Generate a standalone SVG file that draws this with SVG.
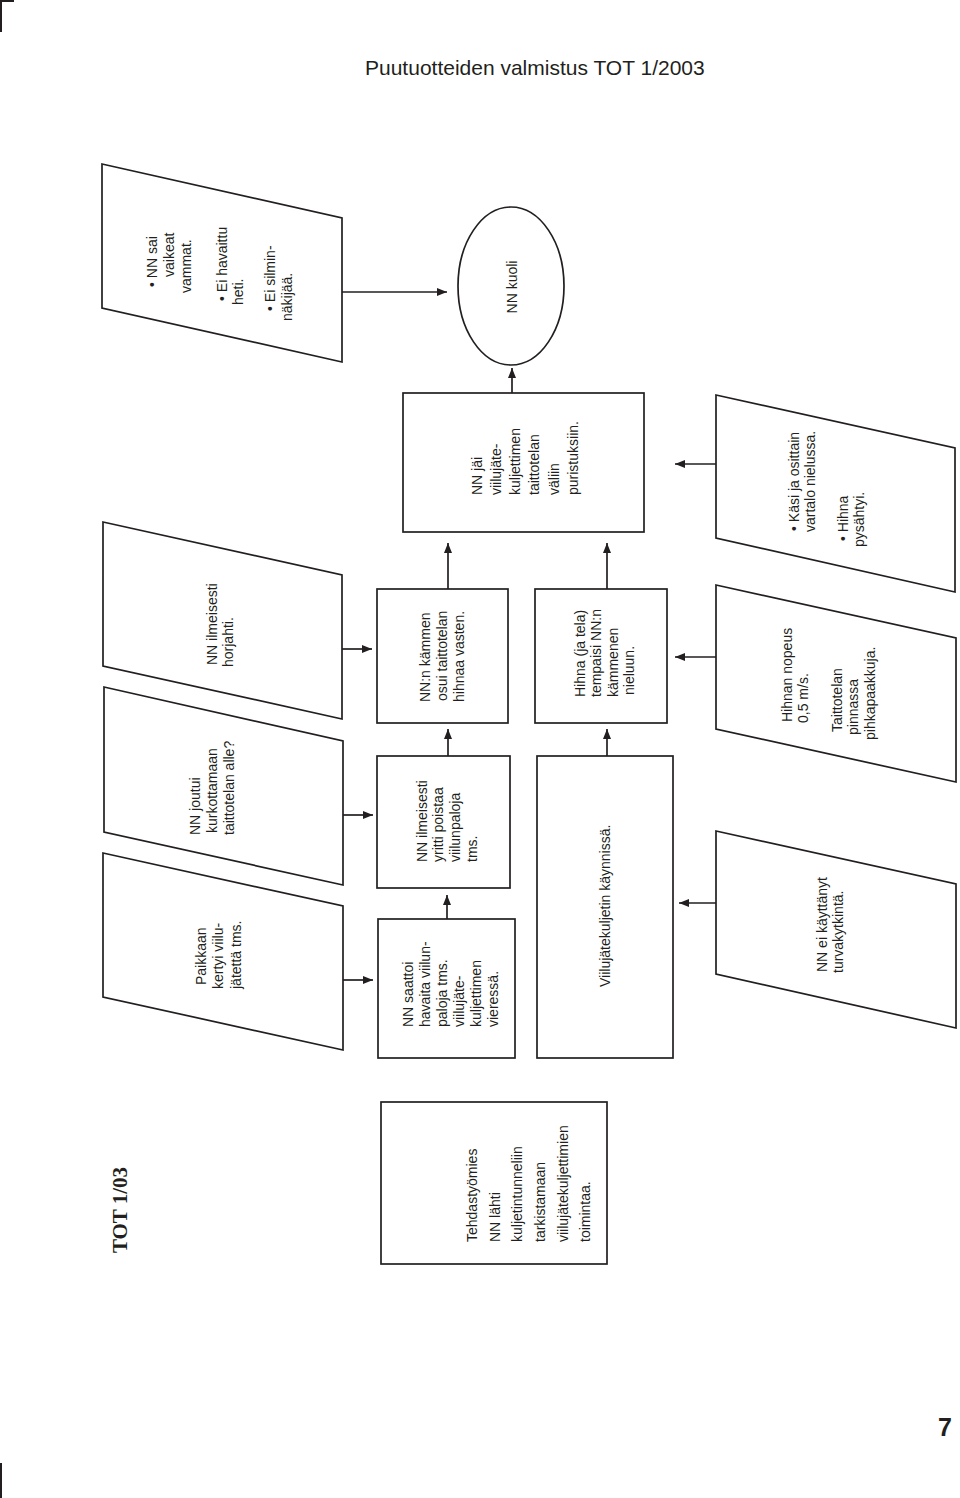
<svg xmlns="http://www.w3.org/2000/svg" width="960" height="1498" viewBox="0 0 960 1498">
<style>
.bg{fill:#ffffff}
.shape{fill:#ffffff;stroke:#231f20;stroke-width:1.7}
.conn{fill:none;stroke:#231f20;stroke-width:1.7}
.t{font-family:"Liberation Sans",Arial,sans-serif;font-size:14px;fill:#231f20}
.title{font-family:"Liberation Sans",Arial,sans-serif;font-size:21px;fill:#231f20}
.tot{font-family:"Liberation Serif","Times New Roman",serif;font-size:21px;font-weight:bold;fill:#231f20}
.pg{font-family:"Liberation Sans",Arial,sans-serif;font-size:25px;font-weight:bold;fill:#231f20}
.mark{fill:none;stroke:#231f20;stroke-width:2}
</style>
<defs>
<marker id="ah" markerUnits="userSpaceOnUse" markerWidth="12" markerHeight="10" refX="10" refY="4" orient="auto">
<path d="M0,0 L10,4 L0,8 Z" fill="#231f20"/>
</marker>
</defs>
<rect class="bg" x="0" y="0" width="960" height="1498"/>
<g id="cropmarks">
<path class="mark" d="M1,32 V1 H14"/>
<path class="mark" d="M1,1463 V1498"/>
</g>
<text class="title" x="365" y="75">Puutuotteiden valmistus TOT 1/2003</text>
<text class="tot" transform="rotate(-90)" x="-1210" y="127" text-anchor="middle">TOT 1/03</text>
<text class="pg" x="945" y="1436" text-anchor="middle">7</text>

<g id="connectors">
<line class="conn" x1="342" y1="292" x2="447" y2="292" marker-end="url(#ah)"/>
<line class="conn" x1="512" y1="393" x2="512" y2="368" marker-end="url(#ah)"/>
<line class="conn" x1="448" y1="589" x2="448" y2="543" marker-end="url(#ah)"/>
<line class="conn" x1="607" y1="589" x2="607" y2="543" marker-end="url(#ah)"/>
<line class="conn" x1="716" y1="464" x2="675" y2="464" marker-end="url(#ah)"/>
<line class="conn" x1="716" y1="657" x2="675" y2="657" marker-end="url(#ah)"/>
<line class="conn" x1="342" y1="649" x2="372" y2="649" marker-end="url(#ah)"/>
<line class="conn" x1="448" y1="756" x2="448" y2="729" marker-end="url(#ah)"/>
<line class="conn" x1="607" y1="756" x2="607" y2="729" marker-end="url(#ah)"/>
<line class="conn" x1="343" y1="815" x2="373" y2="815" marker-end="url(#ah)"/>
<line class="conn" x1="447" y1="919" x2="447" y2="895" marker-end="url(#ah)"/>
<line class="conn" x1="343" y1="980" x2="373" y2="980" marker-end="url(#ah)"/>
<line class="conn" x1="716" y1="903" x2="679" y2="903" marker-end="url(#ah)"/>
</g>

<g id="n-vammat">
<polygon class="shape" points="102,164 342,218 342,362 102,308"/>
<text class="t" transform="rotate(-90)">
<tspan x="-287" y="157">• NN sai</tspan>
<tspan x="-277" y="174">vaikeat</tspan>
<tspan x="-293" y="191">vammat.</tspan>
<tspan x="-301" y="227">• Ei havaittu</tspan>
<tspan x="-305" y="243">heti.</tspan>
<tspan x="-311" y="275">• Ei silmin-</tspan>
<tspan x="-321" y="292">näkijää.</tspan>
</text>
</g>

<g id="n-kuoli">
<ellipse class="shape" cx="511" cy="286" rx="53" ry="79"/>
<text class="t" transform="rotate(-90)" x="-287" y="517" text-anchor="middle">NN kuoli</text>
</g>

<g id="n-jai">
<rect class="shape" x="403" y="393" width="241" height="139"/>
<text class="t" transform="rotate(-90)">
<tspan x="-495" y="482">NN jäi</tspan>
<tspan x="-495" y="501">viilujäte-</tspan>
<tspan x="-495" y="520">kuljettimen</tspan>
<tspan x="-495" y="539">taittotelan</tspan>
<tspan x="-495" y="559">väliin</tspan>
<tspan x="-495" y="578">puristuksiin.</tspan>
</text>
</g>

<g id="n-kasi">
<polygon class="shape" points="716,395 955,448 955,592 716,538"/>
<text class="t" transform="rotate(-90)">
<tspan x="-531" y="799">• Käsi ja osittain</tspan>
<tspan x="-532" y="815">vartalo nielussa.</tspan>
<tspan x="-541" y="848">• Hihna</tspan>
<tspan x="-547" y="864">pysähtyi.</tspan>
</text>
</g>

<g id="n-kammen">
<rect class="shape" x="377" y="589" width="131" height="134"/>
<text class="t" transform="rotate(-90)">
<tspan x="-702" y="430">NN:n kämmen</tspan>
<tspan x="-701" y="447">osui taittotelan</tspan>
<tspan x="-702" y="464">hihnaa vasten.</tspan>
</text>
</g>

<g id="n-hihna">
<rect class="shape" x="535" y="589" width="132" height="134"/>
<text class="t" transform="rotate(-90)">
<tspan x="-697" y="585">Hihna (ja tela)</tspan>
<tspan x="-697" y="601">tempaisi NN:n</tspan>
<tspan x="-697" y="618">kämmenen</tspan>
<tspan x="-695" y="634">nieluun.</tspan>
</text>
</g>

<g id="n-nopeus">
<polygon class="shape" points="716,585 956,638 956,782 716,729"/>
<text class="t" transform="rotate(-90)">
<tspan x="-722" y="792">Hihnan nopeus</tspan>
<tspan x="-723" y="808">0,5 m/s.</tspan>
<tspan x="-732" y="842">Taittotelan</tspan>
<tspan x="-735" y="858">pinnassa</tspan>
<tspan x="-740" y="875">pihkapaakkuja.</tspan>
</text>
</g>

<g id="n-horjahti">
<polygon class="shape" points="103,522 342,575 342,719 103,666"/>
<text class="t" transform="rotate(-90)">
<tspan x="-665" y="217">NN ilmeisesti</tspan>
<tspan x="-667" y="233">horjahti.</tspan>
</text>
</g>

<g id="n-yritti">
<rect class="shape" x="377" y="756" width="133" height="132"/>
<text class="t" transform="rotate(-90)">
<tspan x="-862" y="427">NN ilmeisesti</tspan>
<tspan x="-862" y="443">yritti poistaa</tspan>
<tspan x="-862" y="460">viilunpaloja</tspan>
<tspan x="-862" y="477">tms.</tspan>
</text>
</g>

<g id="n-joutui">
<polygon class="shape" points="104,687 343,741 343,885 104,832"/>
<text class="t" transform="rotate(-90)">
<tspan x="-835" y="200">NN joutui</tspan>
<tspan x="-833" y="217">kurkottamaan</tspan>
<tspan x="-835" y="234">taittotelan alle?</tspan>
</text>
</g>

<g id="n-kaynnissa">
<rect class="shape" x="537" y="756" width="136" height="302"/>
<text class="t" transform="rotate(-90)" x="-987" y="610">Viilujätekuljetin käynnissä.</text>
</g>

<g id="n-paikkaan">
<polygon class="shape" points="103,853 343,906 343,1050 103,997"/>
<text class="t" transform="rotate(-90)">
<tspan x="-985" y="206">Paikkaan</tspan>
<tspan x="-989" y="223">kertyi viilu-</tspan>
<tspan x="-989" y="241">jätettä tms.</tspan>
</text>
</g>

<g id="n-saattoi">
<rect class="shape" x="378" y="919" width="137" height="139"/>
<text class="t" transform="rotate(-90)">
<tspan x="-1027" y="413">NN saattoi</tspan>
<tspan x="-1027" y="430">havaita viilun-</tspan>
<tspan x="-1027" y="447">paloja tms.</tspan>
<tspan x="-1027" y="464">viilujäte-</tspan>
<tspan x="-1027" y="481">kuljettimen</tspan>
<tspan x="-1027" y="498">vieressä.</tspan>
</text>
</g>

<g id="n-turvakytkin">
<polygon class="shape" points="716,831 956,884 956,1028 716,974"/>
<text class="t" transform="rotate(-90)">
<tspan x="-972" y="827">NN ei käyttänyt</tspan>
<tspan x="-973" y="843">turvakytkintä.</tspan>
</text>
</g>

<g id="n-tehdastyomies">
<rect class="shape" x="381" y="1102" width="226" height="162"/>
<text class="t" transform="rotate(-90)">
<tspan x="-1242" y="477">Tehdastyömies</tspan>
<tspan x="-1242" y="500">NN lähti</tspan>
<tspan x="-1242" y="522">kuljetintunneliin</tspan>
<tspan x="-1242" y="545">tarkistamaan</tspan>
<tspan x="-1242" y="568">viilujätekuljettimien</tspan>
<tspan x="-1242" y="590">toimintaa.</tspan>
</text>
</g>
</svg>
